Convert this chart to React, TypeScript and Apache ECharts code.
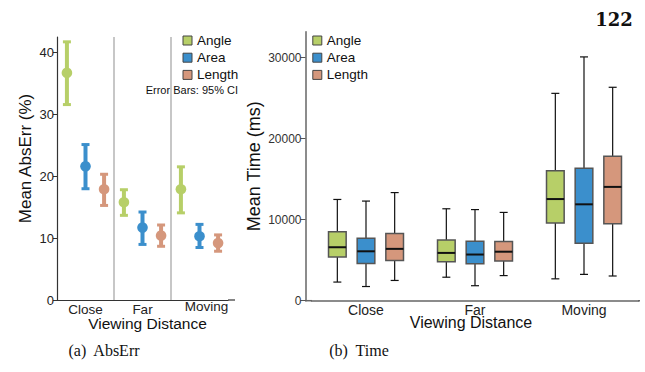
import React, { useEffect, useRef } from 'react';
import * as echarts from 'echarts';

const categories = ['Close', 'Far', 'Moving'];
const seriesNames = ['Angle', 'Area', 'Length'];
const colors = ['#b7cf68', '#3b8fcc', '#d5977c'];

// (a) AbsErr: mean and 95% CI bounds per viewing distance
const angleMean = [36.7, 15.8, 17.9];
const angleLow = [31.5, 13.6, 14.0];
const angleHigh = [41.8, 17.9, 21.6];
const areaMean = [21.6, 11.7, 10.3];
const areaLow = [17.9, 8.9, 8.4];
const areaHigh = [25.2, 14.3, 12.3];
const lengthMean = [17.9, 10.4, 9.2];
const lengthLow = [15.2, 8.6, 7.8];
const lengthHigh = [20.4, 12.2, 10.6];

// (b) Time: [min, Q1, median, Q3, max] per viewing distance
const timeAngle = [
  [2300, 5400, 6600, 8500, 12500],
  [2900, 4800, 5900, 7500, 11350],
  [2700, 9600, 12550, 16050, 25600],
];
const timeArea = [
  [1750, 4600, 6100, 7700, 12300],
  [1850, 4550, 5700, 7350, 11250],
  [3250, 7100, 11900, 16350, 30100],
];
const timeLength = [
  [2500, 4950, 6400, 8300, 13350],
  [3100, 4900, 6050, 7300, 10900],
  [3050, 9500, 14050, 17850, 26350],
];

// group boundaries between viewing-distance groups (in category units)
const separatorPositions = [1, 2];

const absErrTicks = { min: 0, max: 42.5, interval: 10 };
const timeTicks = { min: 0, max: 33200, interval: 10000 };

const FONT = '"Liberation Sans", Arial, Helvetica, sans-serif';

const errData = [
  [angleMean, angleLow, angleHigh],
  [areaMean, areaLow, areaHigh],
  [lengthMean, lengthLow, lengthHigh],
];
const boxData = [timeAngle, timeArea, timeLength];

function errRender(sIdx: number) {
  return (params: any, api: any) => {
    const cat = api.value(0);
    const band = api.size([1, 0])[0];
    const off = (sIdx - 1) * band * 0.326;
    const pm = api.coord([cat, api.value(1)]);
    const pl = api.coord([cat, api.value(2)]);
    const ph = api.coord([cat, api.value(3)]);
    const x = pm[0] + off;
    const c = colors[sIdx];
    const capW = 8;
    const capH = 3;
    return {
      type: 'group',
      children: [
        { type: 'line', shape: { x1: x, y1: ph[1], x2: x, y2: pl[1] }, style: { stroke: c, lineWidth: 4 } },
        { type: 'rect', shape: { x: x - capW / 2, y: ph[1] - 1, width: capW, height: capH }, style: { fill: c } },
        { type: 'rect', shape: { x: x - capW / 2, y: pl[1] - capH + 1, width: capW, height: capH }, style: { fill: c } },
        { type: 'circle', shape: { cx: x, cy: pm[1], r: 5.3 }, style: { fill: c } },
      ],
    };
  };
}

function boxRender(sIdx: number) {
  return (params: any, api: any) => {
    const cat = api.value(0);
    const band = api.size([1, 0])[0];
    const off = (sIdx - 1) * band * 0.263;
    const w = band * 0.162;
    const yMin = api.coord([cat, api.value(1)])[1];
    const yQ1 = api.coord([cat, api.value(2)])[1];
    const yMed = api.coord([cat, api.value(3)])[1];
    const yQ3 = api.coord([cat, api.value(4)])[1];
    const yMax = api.coord([cat, api.value(5)])[1];
    const x = api.coord([cat, 0])[0] + off;
    const capHalf = 4;
    const wStroke = { stroke: '#111', lineWidth: 1.2 };
    return {
      type: 'group',
      children: [
        { type: 'line', shape: { x1: x, y1: yMax, x2: x, y2: yQ3 }, style: wStroke },
        { type: 'line', shape: { x1: x, y1: yQ1, x2: x, y2: yMin }, style: wStroke },
        { type: 'line', shape: { x1: x - capHalf, y1: yMax, x2: x + capHalf, y2: yMax }, style: wStroke },
        { type: 'line', shape: { x1: x - capHalf, y1: yMin, x2: x + capHalf, y2: yMin }, style: wStroke },
        {
          type: 'rect',
          shape: { x: x - w / 2, y: yQ3, width: w, height: yQ1 - yQ3 },
          style: { fill: colors[sIdx], stroke: '#555', lineWidth: 1.5 },
        },
        { type: 'line', shape: { x1: x - w / 2, y1: yMed, x2: x + w / 2, y2: yMed }, style: { stroke: '#111', lineWidth: 2 } },
      ],
    };
  };
}

export default function App() {
  const ref = useRef<HTMLDivElement>(null);

  useEffect(() => {
    if (!ref.current) return;
    const chart = echarts.init(ref.current, undefined, { renderer: 'svg' });

    const legendData = seriesNames.map((n, i) => ({
      name: n,
      icon: 'rect',
      itemStyle: { color: colors[i], borderColor: '#444', borderWidth: 1 },
    }));
    const legendCommon = {
      orient: 'vertical',
      top: 33.5,
      itemWidth: 9,
      itemHeight: 9,
      itemGap: 3.2,
      padding: 0,
      selectedMode: false,
      data: legendData,
      textStyle: { fontSize: 13.5, color: '#111', fontFamily: FONT },
    };

    const errSeries = seriesNames.map((n, i) => ({
      name: n,
      type: 'custom',
      xAxisIndex: 0,
      yAxisIndex: 0,
      renderItem: errRender(i),
      encode: { x: 0, y: [1, 2, 3] },
      data: categories.map((_, ci) => [ci, errData[i][0][ci], errData[i][1][ci], errData[i][2][ci]]),
      z: 3,
    }));

    const boxSeries = seriesNames.map((n, i) => ({
      name: n,
      type: 'custom',
      xAxisIndex: 1,
      yAxisIndex: 1,
      renderItem: boxRender(i),
      encode: { x: 0, y: [1, 2, 3, 4, 5] },
      data: categories.map((_, ci) => [ci, ...boxData[i][ci]]),
      z: 3,
    }));

    const plainNum = (v: number) => String(v);

    const option: any = {
      animation: false,
      backgroundColor: '#ffffff',
      textStyle: { fontFamily: FONT },
      grid: [
        { left: 57, top: 37, width: 171, bottom: 72 },
        { left: 311.5, top: 31.8, width: 327, bottom: 71.3 },
      ],
      legend: [
        { ...legendCommon, left: 182.5 },
        { ...legendCommon, left: 312.3 },
      ],
      xAxis: [
        {
          type: 'category',
          gridIndex: 0,
          data: [
            'Close',
            'Far',
            { value: 'Moving', textStyle: { lineHeight: 8, padding: [0, 0, 0, 14] } },
          ],
          boundaryGap: true,
          axisLine: { lineStyle: { color: '#333', width: 1.2 } },
          axisTick: { show: false },
          axisLabel: { fontSize: 13.5, color: '#222', margin: 2.5 },
          splitLine: { show: false },
          name: 'Viewing Distance',
          nameLocation: 'middle',
          nameGap: 15,
          nameMoveOverlap: false,
          nameTextStyle: { fontSize: 15.5, color: '#111', padding: [0, 0, 0, 10] },
        },
        {
          type: 'category',
          gridIndex: 1,
          data: categories,
          boundaryGap: true,
          axisLine: { lineStyle: { color: '#666', width: 1.5 } },
          axisTick: { alignWithLabel: true, length: 6, lineStyle: { color: '#555' } },
          axisLabel: { fontSize: 14, color: '#222', margin: 2 },
          splitLine: { show: false },
          name: 'Viewing Distance',
          nameLocation: 'middle',
          nameGap: 14,
          nameMoveOverlap: false,
          nameTextStyle: { fontSize: 16, color: '#111', padding: [0, 8, 0, 0] },
        },
        {
          // hidden value axis spanning the same grid, used for group separators
          type: 'value',
          gridIndex: 0,
          min: 0,
          max: categories.length,
          show: false,
        },
      ],
      yAxis: [
        {
          type: 'value',
          gridIndex: 0,
          min: absErrTicks.min,
          max: absErrTicks.max,
          interval: absErrTicks.interval,
          axisLine: { show: true, lineStyle: { color: '#333', width: 1.2 } },
          axisTick: { show: true, length: 4, lineStyle: { color: '#333' } },
          axisLabel: { fontSize: 13, color: '#222', margin: 3, showMaxLabel: false, formatter: plainNum },
          splitLine: { show: false },
          name: 'Mean AbsErr (%)',
          nameLocation: 'middle',
          nameGap: 23,
          nameMoveOverlap: false,
          nameTextStyle: { fontSize: 17, color: '#111', padding: [0, 0, 0, 20] },
        },
        {
          type: 'value',
          gridIndex: 1,
          min: timeTicks.min,
          max: timeTicks.max,
          interval: timeTicks.interval,
          offset: 6,
          axisLine: { show: true, lineStyle: { color: '#666', width: 1.5 } },
          axisTick: { show: true, length: 5, lineStyle: { color: '#555' } },
          axisLabel: { fontSize: 12, color: '#333', margin: 4, showMaxLabel: false, formatter: plainNum },
          splitLine: { show: false },
          name: 'Mean Time (ms)',
          nameLocation: 'middle',
          nameGap: 43,
          nameMoveOverlap: false,
          nameTextStyle: { fontSize: 18, color: '#111' },
        },
      ],
      series: [
        {
          type: 'line',
          name: 'separators',
          xAxisIndex: 2,
          yAxisIndex: 0,
          data: [],
          markLine: {
            silent: true,
            symbol: 'none',
            label: { show: false },
            lineStyle: { color: '#b4b4b4', width: 1.5, type: 'solid' },
            data: separatorPositions.map((p) => ({ xAxis: p })),
          },
        },
        ...errSeries,
        ...boxSeries,
      ],
      graphic: [
        { type: 'line', shape: { x1: 228, y1: 300, x2: 235, y2: 300 }, style: { stroke: '#333', lineWidth: 1.2 }, silent: true },
        { type: 'line', shape: { x1: 305, y1: 300.7, x2: 312, y2: 300.7 }, style: { stroke: '#666', lineWidth: 1.5 }, silent: true },
        { type: 'line', shape: { x1: 638, y1: 300.7, x2: 640, y2: 300.7 }, style: { stroke: '#666', lineWidth: 1.5 }, silent: true },
        {
          type: 'text',
          x: 238,
          y: 90,
          silent: true,
          style: { text: 'Error Bars: 95% CI', fontSize: 11, fontFamily: FONT, fill: '#111', align: 'right', verticalAlign: 'middle' },
        },
        {
          type: 'text',
          x: 104,
          y: 350,
          silent: true,
          style: { text: '(a)  AbsErr', fontSize: 16, fontFamily: '"Liberation Serif", "Times New Roman", serif', fill: '#111', align: 'center', verticalAlign: 'middle' },
        },
        {
          type: 'text',
          x: 359,
          y: 350,
          silent: true,
          style: { text: '(b)  Time', fontSize: 16, fontFamily: '"Liberation Serif", "Times New Roman", serif', fill: '#111', align: 'center', verticalAlign: 'middle' },
        },
        {
          type: 'text',
          x: 614,
          y: 19,
          silent: true,
          style: { text: '122', fontSize: 18, fontWeight: 'bold', fontFamily: '"DejaVu Serif", serif', fill: '#111', align: 'center', verticalAlign: 'middle' },
        },
      ],
    };

    chart.setOption(option);
    return () => {
      chart.dispose();
    };
  }, []);

  return (
    <div
      ref={ref}
      style={{ position: 'fixed', left: 0, top: 0, width: 645, height: 372, background: '#fff' }}
    />
  );
}
